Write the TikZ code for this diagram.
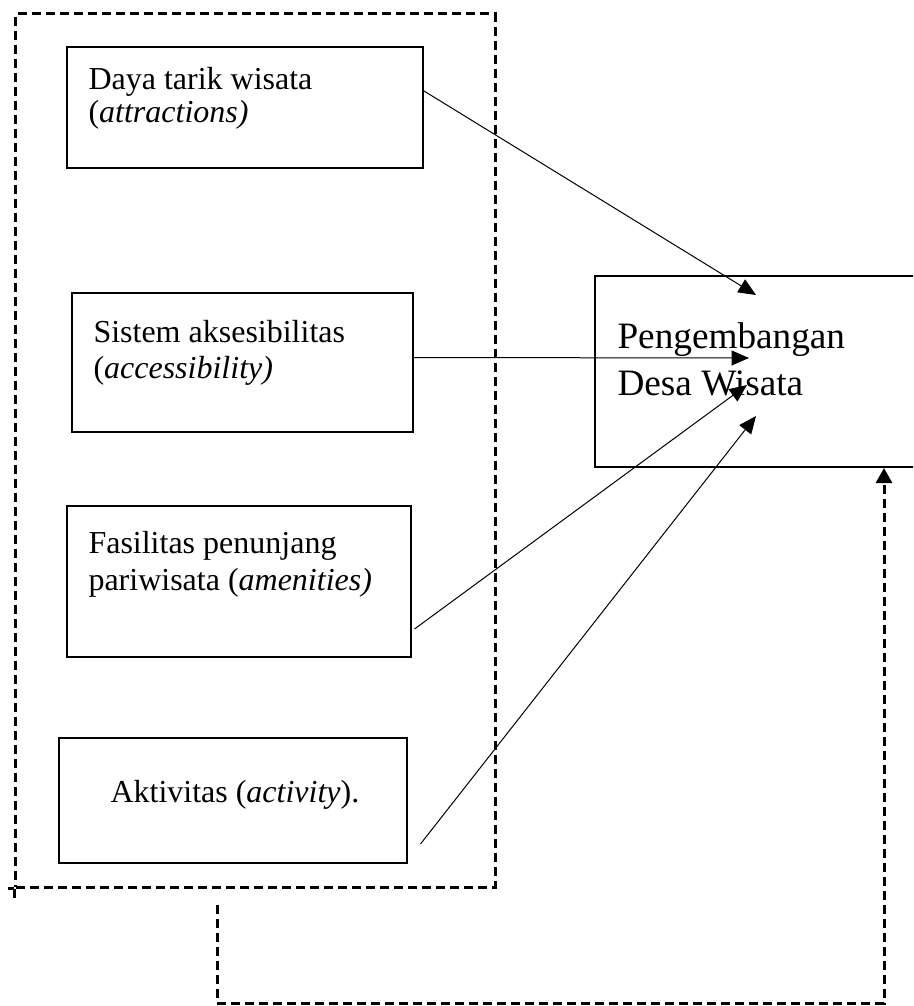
\documentclass[tikz,border=0pt]{standalone}
\usepackage{fontspec}
\setmainfont{Liberation Serif}
\usetikzlibrary{arrows.meta, positioning}
\tikzset{
  factor/.style={draw, line width=0.8pt, inner sep=0pt},
  factlab/.style={font=\fontsize{12.8}{15}\selectfont, anchor=base west,
                  inner sep=0pt},
  devlab/.style={font=\fontsize{14.9}{18.8}\selectfont, anchor=base west,
                 inner sep=0pt},
  grpline/.style={line width=1.2pt, dash pattern=on 3.6pt off 2pt},
  flow/.style={-{Triangle[length=7pt, width=6pt]}, line width=0.4pt},
  loopflow/.style={grpline, -{Triangle[length=6pt, width=6.4pt]}},
}

\begin{document}
\begin{tikzpicture}[x=0.4pt, y=-0.4pt]
    \useasboundingbox (0,0) rectangle (913,1006);
    \clip (0,0) rectangle (913,1006);

    % dashed frame round the four components
    \node[grpline, draw, minimum width=191.6pt, minimum height=349.2pt]
      (group) at (255.5,450.5) {};
    \draw[grpline] (group.south west) -- ++(0,13);
    \draw[grpline] (group.south west) -- ++(-6,0);

    \node[factor, minimum width=142.4pt, minimum height=48.4pt]
      (attr) at (245,107.5) {};
    \node[factlab] at (88,90) {Daya tarik wisata};
    \node[factlab] at (88,123) {(\textit{attractions)}};

    \node[factor, minimum width=136.4pt, minimum height=55.6pt]
      (acc) at (242.5,362.5) {};
    \node[factlab] at (93,342) {Sistem aksesibilitas};
    \node[factlab] at (93,378) {(\textit{accessibility)}};

    \node[factor, minimum width=137.6pt, minimum height=60.4pt]
      (amen) at (239,581.5) {};
    \node[factlab] at (88,553) {Fasilitas penunjang};
    \node[factlab] at (88,590) {pariwisata (\textit{amenities)}};

    \node[factor, minimum width=139.2pt, minimum height=50pt]
      (act) at (233,800.5) {};
    \node[factlab] at (110,802) {Aktivitas (\textit{activity}).};

    % right box runs past the page edge, only three sides show
    \node[factor, minimum width=136pt, minimum height=76.4pt]
      (dev) at (765,371.5) {};
    \node[devlab] at (617,348) {Pengembangan};
    \node[devlab] at (617,395) {Desa Wisata};

    \coordinate (tipA) at (756,295);
    \coordinate (tipB) at (749,358);
    \coordinate (tipC) at (747,385);
    \coordinate (tipD) at (756,416);
    \draw[flow] ([yshift=6.6pt]attr.east) -- (tipA);
    \draw[flow] ([yshift=2pt]acc.east) -- (tipB);
    \draw[flow] ([xshift=1pt, yshift=-19pt]amen.east) -- (tipC);
    \draw[flow] ([xshift=5pt, yshift=-17.4pt]act.east) -- (tipD);

    % feedback loop back from the frame to the development box
    \coordinate (fb) at (217,905);
    \coordinate (fe) at (884,1003);
    \draw[loopflow] (fb) |- (fe) -- (fe |- dev.south);
\end{tikzpicture}
\end{document}
